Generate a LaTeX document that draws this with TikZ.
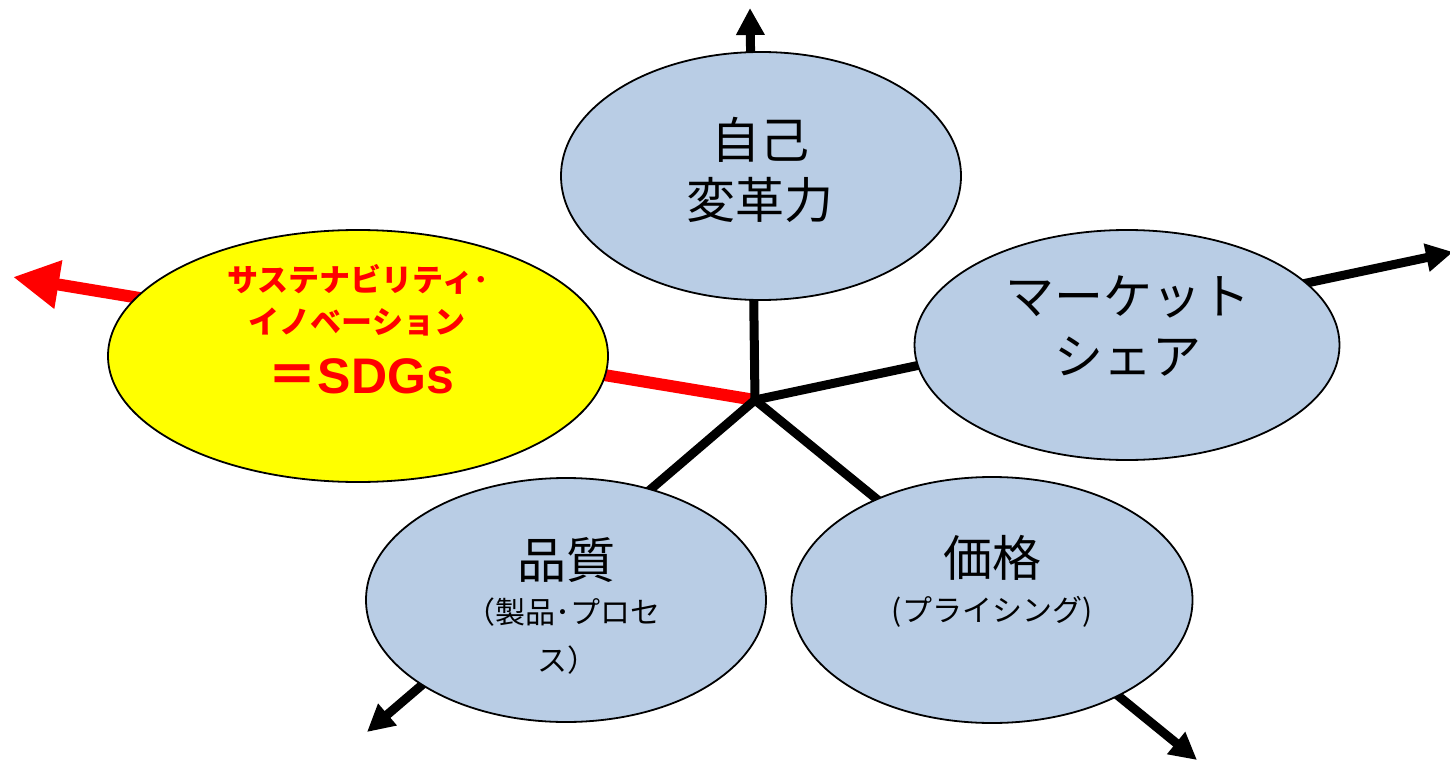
\documentclass[tikz,border=0pt]{standalone}
\usepackage{fontspec}
\newfontfamily\jp{Noto Sans CJK JP}
\newfontfamily\lat{Liberation Sans}
\usetikzlibrary{arrows.meta,backgrounds,shapes.geometric}
\definecolor{bubblefill}{HTML}{B9CDE5}
\definecolor{hotred}{HTML}{FF0000}
\definecolor{brightyellow}{HTML}{FFFF00}
\begin{document}
\begin{tikzpicture}[x=1pt,y=-1pt,
  bubble/.style={ellipse, draw=black, line width=1.8pt, fill=bubblefill, inner sep=0pt, outer sep=0pt},
  spoke/.style={line width=9pt, draw=black, -{Triangle[length=27pt,width=27pt]}},
  redspoke/.style={line width=12pt, draw=hotred, -{Triangle[length=46pt,width=46pt]}},
  bigtxt/.style={font=\jp\fontsize{49}{58}\selectfont, inner sep=0pt},
  smalltxt/.style={font=\jp\fontsize{30}{36}\selectfont, inner sep=0pt},
  redtxt/.style={font=\jp\bfseries\fontsize{31}{36}\selectfont, text=hotred, inner sep=0pt},
  sdgtxt/.style={font=\lat\bfseries\fontsize{50}{56}\selectfont, text=hotred, inner sep=0pt}]
\useasboundingbox (0,0) rectangle (1450,762);
% hub and arrow tips
\coordinate (hub) at (755,400);
\coordinate (tipU) at (750,8);
\coordinate (tipR) at (1453,252);
\coordinate (tipL) at (13,277);
\coordinate (tipDL) at (367,732);
\coordinate (tipDR) at (1197,760);
% bubbles
\node[bubble, minimum width=400pt, minimum height=248pt] (self) at (761,176) {};
\node[bubble, minimum width=425pt, minimum height=230pt] (share) at (1127,345) {};
\node[bubble, fill=brightyellow, minimum width=500pt, minimum height=252pt] (sdg) at (358,356) {};
\node[bubble, minimum width=400pt, minimum height=244pt] (quality) at (566,600) {};
\node[bubble, minimum width=401pt, minimum height=246pt] (price) at (992,600) {};
% spokes behind the bubbles
\begin{scope}[on background layer]
  \draw[redspoke] (hub) -- (tipL);
  \draw[spoke] (hub) -- (tipU);
  \draw[spoke] (hub) -- (tipR);
  \draw[spoke] (hub) -- (tipDL);
  \draw[spoke] (hub) -- (tipDR);
\end{scope}
% texts
\node[bigtxt] (selfA) at (760,140) {自己};
\node[bigtxt] (selfB) at (760,200) {変革力};
\node[bigtxt] (shareA) at (1128,297) {マーケット};
\node[bigtxt] (shareB) at (1128,357) {シェア};
\node[bigtxt] (qualA) at (566,560) {品質};
\node[smalltxt] (qualB) at (563,612) {（製品･プロセ};
\node[smalltxt] (qualC) at (567,660) {ス）};
\node[bigtxt] (priceA) at (992,558) {価格};
\node[smalltxt] (priceB) at (992,612) {(プライシング)};
\node[redtxt] (sdgA) at (358,279) {サステナビリティ･};
\node[redtxt] (sdgB) at (357,322) {イノベーション};
\node[sdgtxt] (sdgC) at (361,376) {{\jp＝}SDGs};
\end{tikzpicture}
\end{document}
